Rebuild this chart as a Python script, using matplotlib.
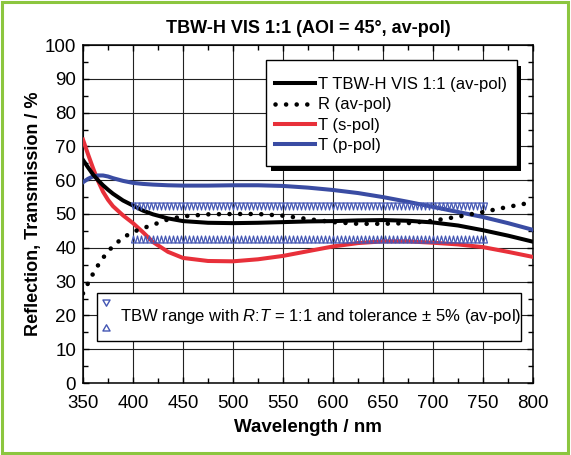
import numpy as np
import matplotlib
matplotlib.use("Agg")
import matplotlib.pyplot as plt
from matplotlib.path import Path
from matplotlib.lines import Line2D
from matplotlib.patches import Rectangle

plt.rcParams['font.family'] = ['Liberation Sans', 'DejaVu Sans']
plt.rcParams['mathtext.fontset'] = 'custom'
plt.rcParams['mathtext.rm'] = 'Liberation Sans'
plt.rcParams['mathtext.it'] = 'Liberation Sans:italic'

# ---------------- data ----------------
wavelength = [350, 355, 360, 365, 370, 375, 380, 390, 400, 410, 420, 435, 450,
              475, 500, 525, 550, 575, 600, 625, 650, 675, 700, 725, 750, 775, 800]
T_av = [66.0, 63.8, 61.7, 60.0, 58.5, 57.2, 56.0, 54.0, 52.5, 51.0, 49.9, 48.7, 47.9,
        47.4, 47.3, 47.4, 47.6, 47.8, 47.9, 48.1, 48.2, 48.0, 47.5, 46.6, 45.2, 43.6, 41.8]
R_av = [26.5, 29.5, 32.3, 34.8, 37.0, 38.9, 40.5, 43.0, 44.7, 45.8, 46.8, 48.4, 49.3,
        49.9, 50.0, 50.0, 49.5, 48.5, 47.6, 47.1, 47.1, 47.3, 48.0, 49.2, 50.6, 52.1, 53.5]
T_s = [72.0, 67.7, 63.6, 59.8, 56.6, 54.2, 52.3, 49.6, 47.3, 44.6, 41.7, 38.8, 37.0,
       36.1, 36.0, 36.6, 37.6, 39.0, 40.4, 41.4, 41.9, 41.9, 41.5, 41.0, 40.2, 38.8, 37.3]
T_p = [59.4, 60.4, 61.1, 61.4, 61.4, 61.1, 60.6, 59.8, 59.2, 58.9, 58.7, 58.5, 58.4,
       58.4, 58.5, 58.5, 58.3, 57.8, 57.1, 56.2, 55.0, 53.6, 52.1, 50.6, 49.1, 47.3, 45.3]

tbw_x = np.arange(400, 753, 4)       # wavelengths of TBW range markers
tbw_upper = 52.5                      # R:T = 1:1 upper tolerance
tbw_lower = 42.5                      # R:T = 1:1 lower tolerance

labels_main = ["T TBW-H VIS 1:1 (av-pol)", "R (av-pol)", "T (s-pol)", "T (p-pol)"]
label_tbw = "TBW range with $R$:$T$ = 1:1 and tolerance ± 5% (av-pol)"
title = "TBW-H VIS 1:1 (AOI = 45°, av-pol)"
xlabel = "Wavelength / nm"
ylabel = "Reflection, Transmission / %"

# ---------------- styling ----------------
RED = '#e8303a'
BLUE = '#3a4ca3'
MBLUE = '#4356b3'
W, H = 571, 455

fig = plt.figure(figsize=(W / 100, H / 100), dpi=100)
fig.patch.set_facecolor('white')
ax = fig.add_axes([83 / W, 72 / H, 450 / W, 338 / H])

# marker shapes (narrow triangles)
down_tri = Path([(-0.55, 1), (0.55, 1), (0, -1), (-0.55, 1)],
                [Path.MOVETO, Path.LINETO, Path.LINETO, Path.CLOSEPOLY])
up_tri = Path([(-0.55, -1), (0.55, -1), (0, 1), (-0.55, -1)],
              [Path.MOVETO, Path.LINETO, Path.LINETO, Path.CLOSEPOLY])
pair = Path([(-0.23, 1), (0.23, 1), (0, 0.6), (-0.23, 1),
             (-0.23, -1), (0.23, -1), (0, -0.6), (-0.23, -1)],
            [Path.MOVETO, Path.LINETO, Path.LINETO, Path.CLOSEPOLY,
             Path.MOVETO, Path.LINETO, Path.LINETO, Path.CLOSEPOLY])

lw = 2.9
l_T, = ax.plot(wavelength, T_av, color='black', lw=lw, zorder=3.2)
l_R, = ax.plot(wavelength, R_av, color='black', lw=3.3, ls=(0, (0.01, 2.3)),
               dash_capstyle='round', zorder=3.1)
l_s, = ax.plot(wavelength, T_s, color=RED, lw=lw, zorder=3)
l_p, = ax.plot(wavelength, T_p, color=BLUE, lw=lw, zorder=3)

ax.plot(tbw_x, np.full(len(tbw_x), tbw_upper), ls='none', marker=down_tri, ms=5.0,
        mfc='none', mec=MBLUE, mew=0.9, zorder=3.5)
ax.plot(tbw_x, np.full(len(tbw_x), tbw_lower), ls='none', marker=up_tri, ms=5.0,
        mfc='none', mec=MBLUE, mew=0.9, zorder=3.5)

ax.set_xlim(350, 800)
ax.set_ylim(0, 100)
ax.set_xticks(np.arange(350, 801, 50))
ax.set_xticks(np.arange(350, 801, 25), minor=True)
ax.set_yticks(np.arange(0, 101, 10))
ax.set_yticks(np.arange(0, 101, 5), minor=True)
ax.grid(True, which='major', color='#222222', lw=0.8, zorder=1)
ax.set_axisbelow(True)
ax.tick_params(which='both', direction='in', top=True, right=True, width=1.0,
               labelsize=13.5, color='black')
ax.tick_params(which='major', length=4.5)
ax.tick_params(which='minor', length=3.5)
ax.tick_params(axis='x', pad=9)
ax.tick_params(axis='y', pad=5)
for s in ax.spines.values():
    s.set_linewidth(1.1)

ax.set_title(title, fontsize=13, fontweight='bold', pad=8.5)
ax.set_xlabel(xlabel, fontsize=13.5, fontweight='bold', labelpad=5)
ax.set_ylabel(ylabel, fontsize=13, fontweight='bold', labelpad=2)

# legend 1 box with heavy shadow
bx, by, bw, bh = 0.4067, 0.6429, 0.5571, 0.3127
ax.add_patch(Rectangle((bx + 0.010, by - 0.0163), bw, bh, transform=ax.transAxes,
                       facecolor='black', edgecolor='none', zorder=4.4))
ax.add_patch(Rectangle((bx, by), bw, bh, transform=ax.transAxes,
                       facecolor='white', edgecolor='black', lw=1.0, zorder=4.5))
leg1 = ax.legend([l_T, l_R, l_s, l_p], labels_main, loc='upper left',
                 bbox_to_anchor=(0.4267, 0.905), frameon=False, fontsize=12,
                 handlelength=2.4, handletextpad=0.2, labelspacing=0.32,
                 borderpad=0, borderaxespad=0)
leg1.set_zorder(5)
ax.add_artist(leg1)

# legend 2 box
ax.add_patch(Rectangle((0.0304, 0.1243), 0.9429, 0.142, transform=ax.transAxes,
                       facecolor='white', edgecolor='black', lw=1.0, zorder=4.5))
h_tbw = Line2D([], [], ls='none', marker=pair, ms=22.3, mfc='none', mec=MBLUE, mew=1.0)
leg2 = ax.legend([h_tbw], [label_tbw], loc='center left',
                 bbox_to_anchor=(0.0393, 0.196), frameon=False, fontsize=12,
                 handlelength=0.6, handletextpad=0.55, borderpad=0, borderaxespad=0)
leg2.set_zorder(5)

# green frame around figure
fig.add_artist(Rectangle((1.5 / W, 2.5 / H), 566 / W, 450.5 / H, transform=fig.transFigure,
                         fill=False, edgecolor='#8cc63f', lw=2.2))

fig.savefig('out.png', dpi=100)
